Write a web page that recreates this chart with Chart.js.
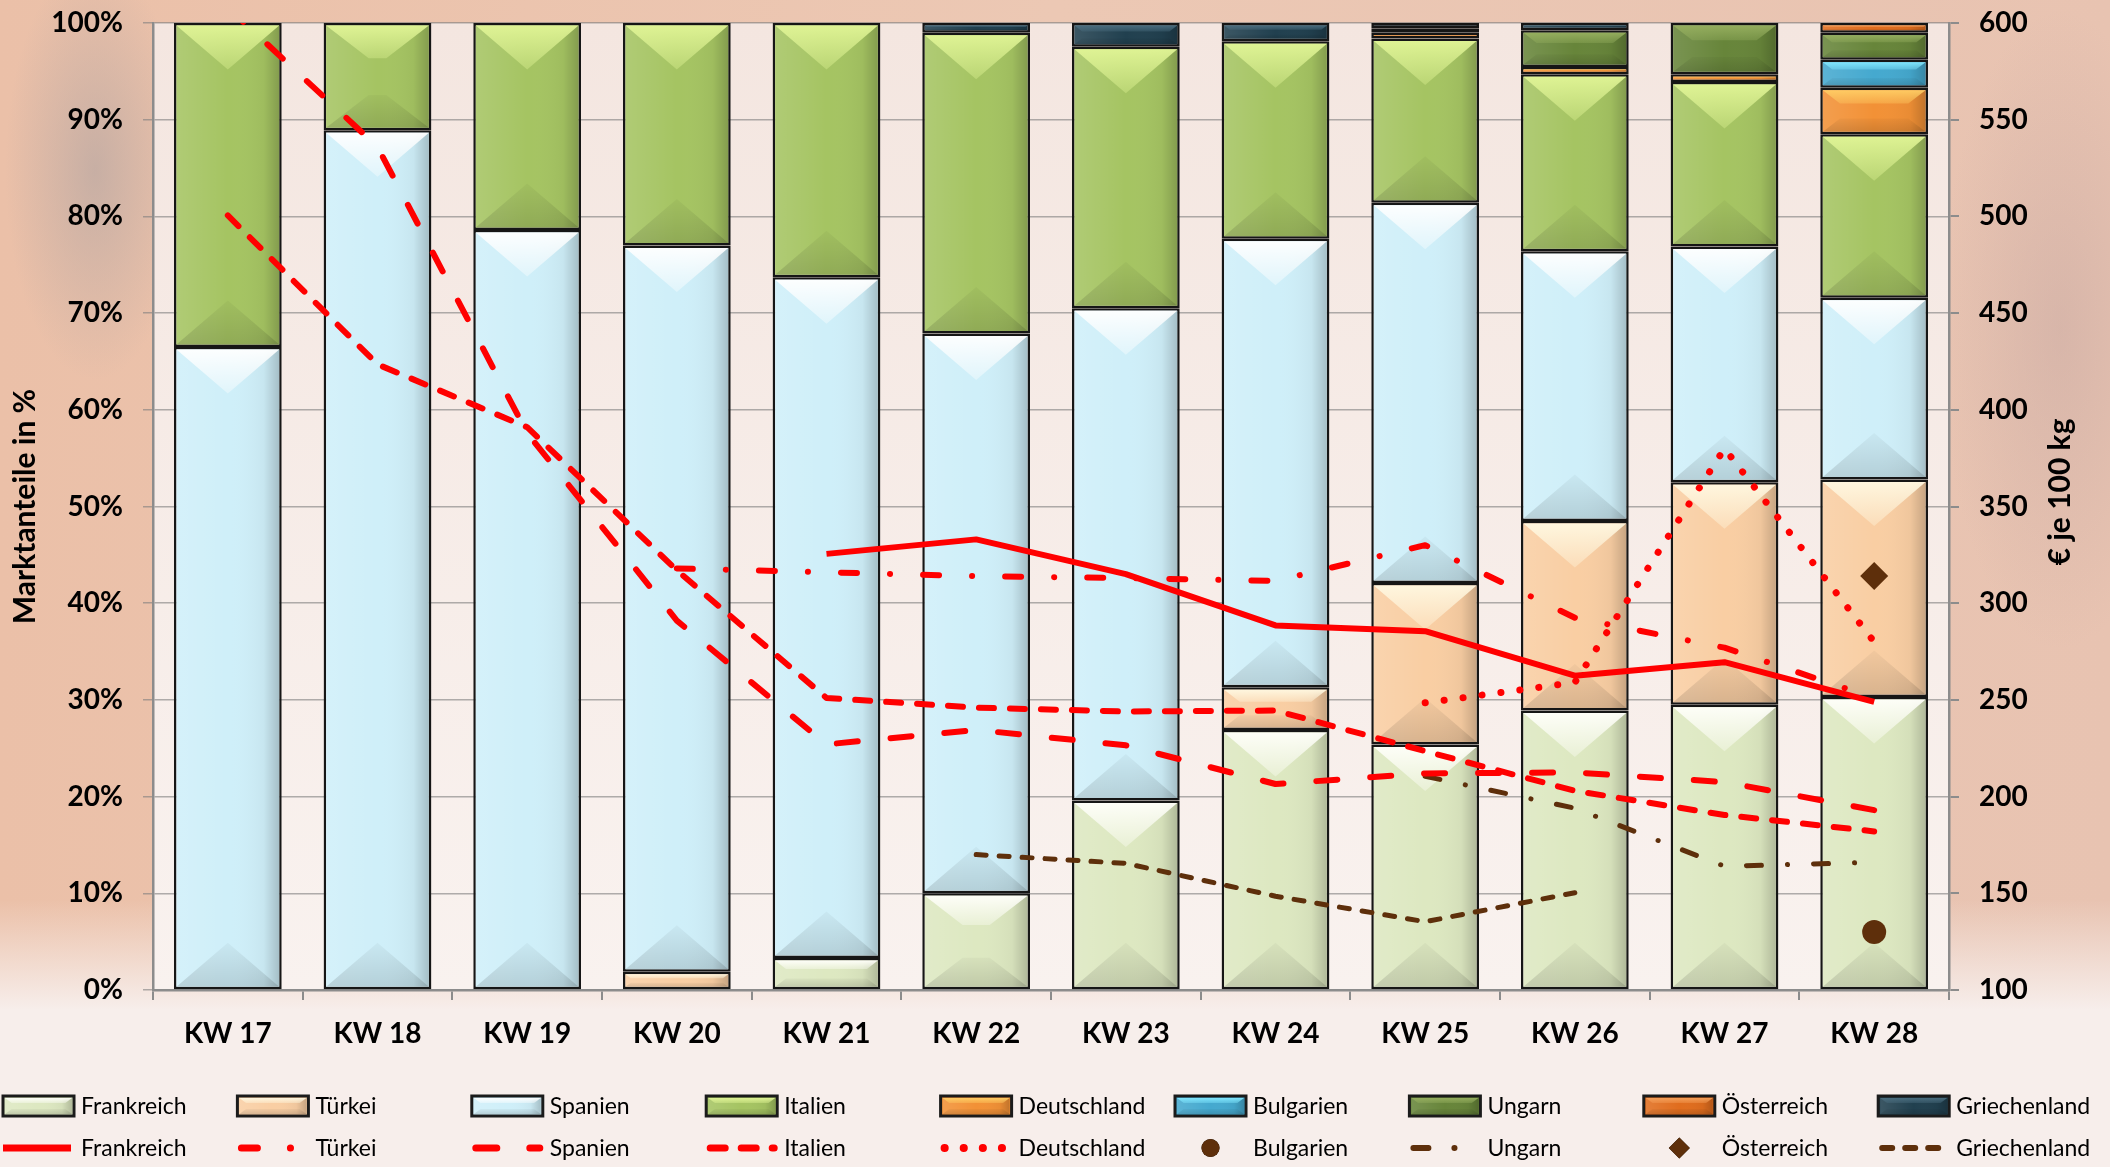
<!DOCTYPE html>
<html>
<head>
<meta charset="utf-8">
<script src="https://cdn.jsdelivr.net/npm/chart.js@4.4.1/dist/chart.umd.min.js"></script>
<style>
html,body{margin:0;padding:0;}
body{
  width:2110px;height:1167px;overflow:hidden;
  background:
    radial-gradient(ellipse 90px 210px at 95px 170px, rgba(170,160,160,0.55), rgba(170,160,160,0)),
    radial-gradient(ellipse 120px 320px at 2060px 330px, rgba(195,165,160,0.45), rgba(195,165,160,0)),
    linear-gradient(to bottom, rgba(247,238,235,0) 0px, rgba(247,238,235,0) 900px, rgba(247,238,235,1) 1010px),
    linear-gradient(to right, #ebc0a8, #ecc8b4 50%, #e8c3b1);
}
canvas{display:block}
</style>
</head>
<body>
<canvas id="chart" width="2110" height="1167"></canvas>
<script>
const weeks = ['KW 17','KW 18','KW 19','KW 20','KW 21','KW 22','KW 23','KW 24','KW 25','KW 26','KW 27','KW 28'];

// Marktanteile in % (gestapelte Säulen)
const anteilFrankreich   = [0, 0, 0, 0, 3.3, 10.0, 19.6, 26.9, 25.4, 28.9, 29.5, 30.3];
const anteilTuerkei      = [0, 0, 0, 1.9, 0, 0, 0, 4.4, 16.7, 19.6, 23.0, 22.5];
const anteilSpanien      = [66.5, 88.9, 78.6, 75.1, 70.4, 57.9, 50.9, 46.4, 39.3, 27.9, 24.4, 18.8];
const anteilItalien      = [33.5, 11.1, 21.4, 23.0, 26.3, 31.1, 27.05, 20.4, 17.0, 18.3, 17.0, 16.9];
const anteilDeutschland  = [0, 0, 0, 0, 0, 0, 0, 0, 0.6, 0.75, 0.8, 4.8];
const anteilBulgarien    = [0, 0, 0, 0, 0, 0, 0, 0, 0, 0, 0, 2.9];
const anteilUngarn       = [0, 0, 0, 0, 0, 0, 0, 0, 0.45, 3.8, 5.3, 2.8];
const anteilOesterreich  = [0, 0, 0, 0, 0, 0, 0, 0, 0, 0, 0, 1.0];
const anteilGriechenland = [0, 0, 0, 0, 0, 1.0, 2.45, 1.9, 0.55, 0.75, 0, 0];

// Preise in € je 100 kg (rechte Achse)
const preisFrankreich   = [null, null, null, null, 325.5, 333, 315, 288.5, 285.5, 262.5, 269.5, 249];
const preisTuerkei      = [null, null, null, 318, 316, 314, 313, 311.5, 330, 292.5, 277, 251];
const preisSpanien      = [608, 536, 388, 291, 227, 234.5, 226.5, 206.5, 212, 212.5, 207.5, 193];
const preisItalien      = [500.5, 423.5, 391, 317, 251, 246, 244, 244.5, 223.5, 203, 190.5, 182];
const preisDeutschland  = [null, null, null, null, null, null, null, null, 248.5, 259, 380, 280];
const preisBulgarien    = [null, null, null, null, null, null, null, null, null, null, null, 130];
const preisUngarn       = [null, null, null, null, null, null, null, null, 210.5, 194, 164, 166];
const preisOesterreich  = [null, null, null, null, null, null, null, null, null, null, null, 314];
const preisGriechenland = [null, null, null, null, null, 170, 165.5, 148.5, 135.3, 150.3, null, null];

const red = '#ff0000', brown = '#5e2f0b';

const bars = [
  {label:'Frankreich',   data:anteilFrankreich,   color:'#dde8c1', hi:'255,255,250'},
  {label:'Türkei',       data:anteilTuerkei,      color:'#f9cea3', hi:'255,248,225'},
  {label:'Spanien',      data:anteilSpanien,      color:'#cfeff9', hi:'255,255,255'},
  {label:'Italien',      data:anteilItalien,      color:'#a5c462', hi:'225,245,150'},
  {label:'Deutschland',  data:anteilDeutschland,  color:'#f29136', hi:'255,205,100'},
  {label:'Bulgarien',    data:anteilBulgarien,    color:'#45a9cf', hi:'130,232,255'},
  {label:'Ungarn',       data:anteilUngarn,       color:'#67853a', hi:'150,175,95'},
  {label:'Österreich',   data:anteilOesterreich,  color:'#e06d1e', hi:'245,160,90'},
  {label:'Griechenland', data:anteilGriechenland, color:'#21404f', hi:'75,110,128'}
];

const lines = [
  {label:'Frankreich',   data:preisFrankreich,   color:red,   width:6, dash:[]},
  {label:'Türkei',       data:preisTuerkei,      color:red,   width:6, dash:[16, 33, 0.1, 33]},
  {label:'Spanien',      data:preisSpanien,      color:red,   width:6, dash:[21, 33]},
  {label:'Italien',      data:preisItalien,      color:red,   width:6, dash:[15, 16]},
  {label:'Deutschland',  data:preisDeutschland,  color:red,   width:7, dash:[0.1, 19]},
  {label:'Bulgarien',    data:preisBulgarien,    color:brown, point:'circle', radius:12},
  {label:'Ungarn',       data:preisUngarn,       color:brown, width:5, dash:[15, 26, 0.1, 26]},
  {label:'Österreich',   data:preisOesterreich,  color:brown, point:'rectRot', radius:14},
  {label:'Griechenland', data:preisGriechenland, color:brown, width:5, dash:[10, 13]}
];

function drawBevel(ctx, x0, y0, x1, y1, hi){
  const w = x1 - x0, h = y1 - y0;
  if (h < 2 || w < 2) return;
  const bv = Math.min(44, h * 0.32);
  const ix = Math.min(w / 2, bv * 1.3);
  let g = ctx.createLinearGradient(x0, 0, x1, 0);
  g.addColorStop(0, 'rgba(255,255,255,0.12)');
  g.addColorStop(0.5, 'rgba(255,255,255,0)');
  g.addColorStop(0.85, 'rgba(0,0,0,0.04)');
  g.addColorStop(1, 'rgba(0,0,0,0.2)');
  ctx.fillStyle = g;
  ctx.fillRect(x0, y0, w, h);
  g = ctx.createLinearGradient(0, y0, 0, y0 + bv);
  g.addColorStop(0, `rgba(${hi},0.95)`);
  g.addColorStop(1, `rgba(${hi},0.35)`);
  ctx.fillStyle = g;
  ctx.beginPath();
  ctx.moveTo(x0, y0); ctx.lineTo(x1, y0); ctx.lineTo(x1 - ix, y0 + bv); ctx.lineTo(x0 + ix, y0 + bv);
  ctx.closePath(); ctx.fill();
  g = ctx.createLinearGradient(0, y1, 0, y1 - bv);
  g.addColorStop(0, 'rgba(0,0,0,0.13)');
  g.addColorStop(1, 'rgba(0,0,0,0.03)');
  ctx.fillStyle = g;
  ctx.beginPath();
  ctx.moveTo(x0, y1); ctx.lineTo(x1, y1); ctx.lineTo(x1 - ix, y1 - bv); ctx.lineTo(x0 + ix, y1 - bv);
  ctx.closePath(); ctx.fill();
}

const plotBg = {
  id:'plotBg',
  beforeDraw(chart){
    const {ctx, chartArea:a} = chart;
    const g = ctx.createLinearGradient(0, a.top, 0, a.bottom);
    g.addColorStop(0, '#f4e6e0');
    g.addColorStop(1, '#f9f2ef');
    ctx.fillStyle = g;
    ctx.fillRect(a.left, a.top, a.right - a.left, a.bottom - a.top);
  }
};

const bevel = {
  id:'bevel',
  afterDatasetDraw(chart, args){
    const meta = args.meta;
    if (meta.type !== 'bar') return;
    const ds = chart.data.datasets[args.index];
    const ctx = chart.ctx, bw = ds.borderWidth;
    ctx.save();
    meta.data.forEach(el => {
      const p = el.getProps(['x','y','base','width'], true);
      const x0 = p.x - p.width / 2 + bw, x1 = p.x + p.width / 2 - bw;
      const y0 = Math.min(p.y, p.base) + bw, y1 = Math.max(p.y, p.base) - bw;
      drawBevel(ctx, x0, y0, x1, y1, ds.hi);
    });
    ctx.restore();
  }
};

const extras = {
  id:'extras',
  afterDraw(chart){
    const ctx = chart.ctx, a = chart.chartArea;
    ctx.save();
    // axis titles
    ctx.fillStyle = '#000';
    ctx.font = 'bold 30px Lato';
    ctx.textAlign = 'center';
    ctx.textBaseline = 'middle';
    ctx.save(); ctx.translate(25, (a.top + a.bottom) / 2); ctx.rotate(-Math.PI / 2);
    ctx.fillText('Marktanteile in %', 0, 0); ctx.restore();
    ctx.save(); ctx.translate(2060, 492); ctx.rotate(-Math.PI / 2);
    ctx.fillText('€ je 100 kg', 0, 0); ctx.restore();

    // legend, two rows
    const step = 234.4, sw = 71;
    ctx.font = '23px Lato';
    ctx.textAlign = 'left';
    bars.forEach((b, i) => {
      const x = 3 + i * step, y = 1106;
      ctx.fillStyle = b.color;
      ctx.fillRect(x, y - 10, sw, 20);
      drawBevel(ctx, x + 2, y - 8, x + sw - 2, y + 8, b.hi);
      ctx.strokeStyle = '#1b1b1b'; ctx.lineWidth = 3; ctx.setLineDash([]);
      ctx.strokeRect(x, y - 10, sw, 20);
      ctx.fillStyle = '#000';
      ctx.fillText(b.label, x + sw + 7, y + 1);
    });
    lines.forEach((l, i) => {
      const x = 3 + i * step, y = 1148;
      if (l.point) {
        Chart.helpers.drawPoint(ctx, {pointStyle:l.point, radius:l.radius * 0.75, rotation:0, borderWidth:0}, x + sw / 2, y);
        ctx.fillStyle = l.color; ctx.fill();
      } else {
        ctx.strokeStyle = l.color; ctx.lineWidth = l.width + 1;
        ctx.lineCap = l.dash.length ? 'round' : 'butt';
        ctx.setLineDash(l.dash);
        ctx.beginPath(); ctx.moveTo(x + (l.dash.length ? 4 : 0), y); ctx.lineTo(x + sw - 3, y); ctx.stroke();
        ctx.setLineDash([]);
      }
      ctx.fillStyle = '#000';
      ctx.fillText(l.label, x + sw + 7, y + 1);
    });
    ctx.restore();
  }
};

const datasets = [];
bars.forEach(b => datasets.push({
  type:'bar', label:b.label, data:b.data, backgroundColor:b.color,
  borderColor:'#161616', borderWidth:2.5, borderSkipped:false, hi:b.hi,
  yAxisID:'y', stack:'anteile', order:2
}));
lines.forEach(l => {
  if (l.point) {
    datasets.push({type:'line', label:l.label, data:l.data, yAxisID:'y1', order:1, showLine:false,
      pointStyle:l.point, pointRadius:l.radius, pointBackgroundColor:l.color, pointBorderWidth:0});
  } else {
    datasets.push({type:'line', label:l.label, data:l.data, yAxisID:'y1', order:1, clip:0,
      borderColor:l.color, borderWidth:l.width, borderDash:l.dash,
      borderCapStyle:l.dash.length ? 'round' : 'butt', borderJoinStyle:'round',
      pointRadius:0, fill:false, spanGaps:false, tension:0});
  }
});

const tickFont = {family:'Lato', weight:'bold', size:28};
const axisGrey = '#8c8c8c';

// fixed axis sizes so the plot area sits where it does in the original
const fixY = w => s => { s.width = w; s.paddingTop = 0; s.paddingBottom = 0; };

new Chart(document.getElementById('chart'), {
  type:'bar',
  data:{labels:weeks, datasets},
  options:{
    responsive:false, animation:false, devicePixelRatio:1,
    layout:{padding:{top:23, bottom:107, left:0, right:0}},
    plugins:{legend:{display:false}, tooltip:{enabled:false}},
    scales:{
      x:{stacked:true, categoryPercentage:1, barPercentage:0.762,
        grid:{drawOnChartArea:false, drawTicks:true, tickLength:10, color:axisGrey, lineWidth:2},
        border:{color:axisGrey, width:2.5},
        ticks:{font:tickFont, color:'#000', padding:17},
        afterFit:s => { s.height = 70; }},
      y:{stacked:true, position:'left', min:0, max:100,
        ticks:{stepSize:10, callback:v => v + '%', font:tickFont, color:'#000', padding:20},
        grid:{color:'rgba(125,125,125,0.6)', lineWidth:1.5, tickLength:10},
        border:{color:axisGrey, width:2.5},
        afterFit:fixY(153)},
      y1:{position:'right', min:100, max:600,
        ticks:{stepSize:50, font:tickFont, color:'#000', padding:20},
        grid:{drawOnChartArea:false, tickLength:10, color:axisGrey, lineWidth:2},
        border:{color:axisGrey, width:2.5},
        afterFit:fixY(161)}
    }
  },
  plugins:[plotBg, bevel, extras]
});
</script>
</body>
</html>
